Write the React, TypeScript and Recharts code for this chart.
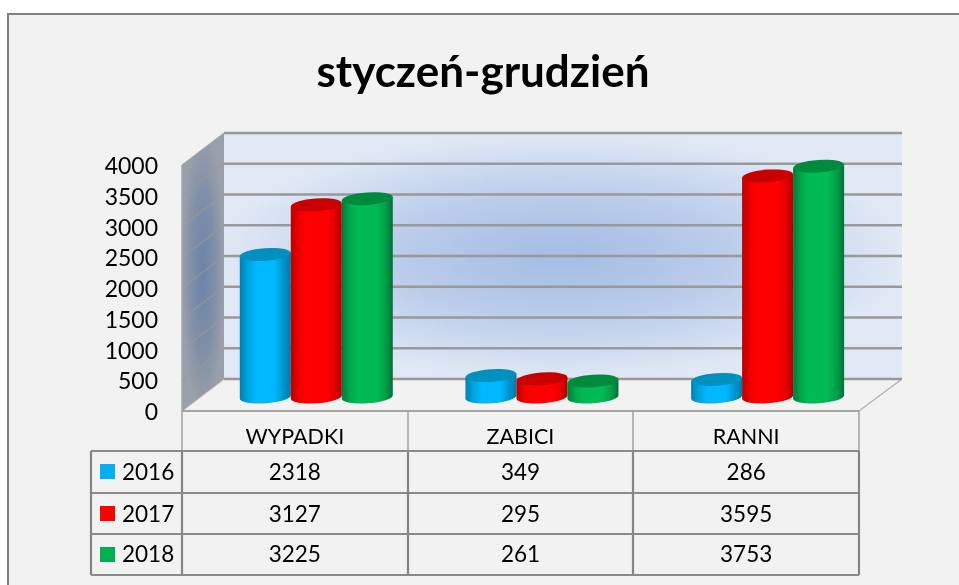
import React from "react";
import { BarChart, Bar, XAxis, YAxis, CartesianGrid } from "recharts";

const CATEGORIES = ["WYPADKI", "ZABICI", "RANNI"];
const VALUES_2016 = [2318, 349, 286];
const VALUES_2017 = [3127, 295, 3595];
const VALUES_2018 = [3225, 261, 3753];
const YEARS = ["2016", "2017", "2018"];
const Y_TICKS = [0, 500, 1000, 1500, 2000, 2500, 3000, 3500, 4000];
const TITLE = "styczeń-grudzień";
const FONT = "Lato, 'Open Sans', sans-serif";

const COLORS = ["#00b0f0", "#ff0000", "#00b050"];
const GRADIENTS = [
  ["#0080b0", "#00a4e0", "#00b8ff", "#00b8ff", "#0096cc", "#0078a8"],
  ["#b80000", "#ee0000", "#ff0000", "#ff0000", "#e80000", "#b00000"],
  ["#007a38", "#00a84c", "#00ba55", "#00ba55", "#00a048", "#00703a"],
];
const TOPS = ["#0090bf", "#c80000", "#008a3e"];
const ALL_VALUES = [VALUES_2016, VALUES_2017, VALUES_2018];
const rows = CATEGORIES.map((name, i) => ({
  name,
  y2016: VALUES_2016[i],
  y2017: VALUES_2017[i],
  y2018: VALUES_2018[i],
}));

const WIDTH = 959;
const HEIGHT = 585;
const DX = 21; // half the depth of the 3D box
const ROW_BASE = [480, 522, 562];
const KEY_TOP = [464, 506, 547];
const TABLE_X = [182, 408, 633, 859];
const TABLE_Y = [451, 493, 534, 575];

const Cylinder = (props: any) => {
  const { x, y, width, height, seriesIndex } = props;
  const rx = width / 2;
  const ry = 6.3;
  const tilt = 1.8;
  const cx = x + rx;
  const bottom = y + height;
  const d = `M${x},${y + tilt} L${x},${bottom + tilt} A${rx},${ry} -4 0 0 ${x + width},${bottom - tilt} L${x + width},${y - tilt} Z`;
  return (
    <g>
      <path d={d} fill={`url(#cyl${seriesIndex})`} />
      <ellipse cx={cx} cy={y} rx={rx} ry={ry} fill={TOPS[seriesIndex]} transform={`rotate(-4 ${cx} ${y})`} />
    </g>
  );
};

const YTick = (props: any) => (
  <text x={158} y={props.y + 23} textAnchor="end" fontFamily={FONT} fontSize={23} fill="#000">
    {props.payload.value}
  </text>
);

const XTick = (props: any) => {
  const i = CATEGORIES.indexOf(props.payload.value);
  const cx = props.x - DX;
  return (
    <g fontFamily={FONT} fontSize={22.5} fill="#000" textAnchor="middle">
      <text x={cx} y={444} fontSize={21.5}>{props.payload.value}</text>
      {ALL_VALUES.map((vals, r) => (
        <text key={r} x={cx} y={ROW_BASE[r]}>{vals[i]}</text>
      ))}
    </g>
  );
};

const GridLine = (props: any) => {
  const { y1 } = props;
  return (
    <g>
      <line x1={224} x2={902} y1={y1 - 18} y2={y1 - 18} stroke="#999999" strokeWidth={2.4} />
      <line x1={224} x2={182} y1={y1 - 18} y2={y1 + 14} stroke="#a09a90" strokeOpacity={0.65} strokeWidth={1.2} />
    </g>
  );
};

const Underlay = () => (
  <svg width={WIDTH} height={HEIGHT} style={{ position: "absolute", left: 0, top: 0 }}>
    <defs>
      <radialGradient id="backWall" cx="0.497" cy="0.5" r="0.5">
        <stop offset="0" stopColor="#a5bde4" />
        <stop offset="0.25" stopColor="#aec4e7" />
        <stop offset="0.5" stopColor="#bccdeb" />
        <stop offset="0.75" stopColor="#cddaf0" />
        <stop offset="1" stopColor="#e0e8f5" />
      </radialGradient>
      <radialGradient id="sideWall" cx="0.5" cy="0.5" r="0.5">
        <stop offset="0" stopColor="#6b82a8" />
        <stop offset="0.6" stopColor="#8190a8" />
        <stop offset="1" stopColor="#999fab" />
      </radialGradient>
      {GRADIENTS.map((stops, s) => (
        <linearGradient key={s} id={`cyl${s}`} x1="0" x2="1" y1="0" y2="0">
          {stops.map((c, i) => (
            <stop key={i} offset={[0, 0.16, 0.32, 0.68, 0.85, 1][i]} stopColor={c} />
          ))}
        </linearGradient>
      ))}
    </defs>
    <rect x={0} y={0} width={WIDTH} height={HEIGHT} fill="#fff" />
    <rect x={7} y={14} width={WIDTH} height={HEIGHT} fill="#f2f2f2" />
    <path d={`M8,${HEIGHT + 4} L8,14 L${WIDTH + 4},14`} fill="none" stroke="#808080" strokeWidth={2} />
    <rect x={224} y={133} width={678} height={246} fill="url(#backWall)" />
    <polygon points="182,165 224,133 224,379 182,411" fill="url(#sideWall)" />
    <polygon points="182,411 224,379 902,379 859,411" fill="#f2f2f2" />
    <line x1={859} y1={411} x2={902} y2={379} stroke="#b4b4b4" strokeWidth={1.5} />
    <line x1={182} y1={165} x2={182} y2={411} stroke="#a6a6a6" strokeWidth={1.5} />
    <line x1={182} y1={411} x2={859} y2={411} stroke="#a4a4a4" strokeWidth={2.2} />
    {TABLE_X.map((x) => (
      <g key={x}>
        <line x1={x} x2={x} y1={411} y2={451} stroke="#a0a0a0" strokeWidth={1.5} />
        <line x1={x} x2={x} y1={451} y2={575} stroke="#858585" strokeWidth={2.2} />
      </g>
    ))}
    <line x1={91} x2={91} y1={451} y2={575} stroke="#858585" strokeWidth={2.2} />
    {TABLE_Y.map((y) => (
      <line key={y} x1={91} x2={859} y1={y} y2={y} stroke="#8a8a8a" strokeWidth={2.2} />
    ))}
    {YEARS.map((yr, i) => (
      <g key={yr}>
        <rect x={100} y={KEY_TOP[i]} width={15} height={15} fill={COLORS[i]} />
        <text x={122} y={ROW_BASE[i]} fontFamily={FONT} fontSize={22.5} fill="#000">{yr}</text>
      </g>
    ))}
    <text x={483} y={87} textAnchor="middle" fontFamily={FONT} fontWeight={700} fontSize={44} fill="#000">
      {TITLE}
    </text>
  </svg>
);

export default function App() {
  return (
    <div style={{ position: "absolute", left: 0, top: 0, width: WIDTH, height: HEIGHT, overflow: "hidden", filter: "blur(0.45px)" }}>
      <Underlay />
      <div style={{ position: "absolute", left: 0, top: 0 }}>
        <BarChart
          width={WIDTH}
          height={HEIGHT}
          data={rows}
          margin={{ top: 151, right: 79, bottom: 158, left: 0 }}
          barCategoryGap="16.3%"
          barGap={0}
        >
          <CartesianGrid vertical={false} horizontal={GridLine as any} horizontalValues={Y_TICKS} />
          <XAxis dataKey="name" axisLine={false} tickLine={false} height={30} tick={XTick as any} interval={0} />
          <YAxis domain={[0, 4000]} ticks={Y_TICKS} width={203} axisLine={false} tickLine={false} tick={YTick as any} interval={0} />
          {["y2016", "y2017", "y2018"].map((key, s) => (
            <Bar
              key={key}
              dataKey={key}
              fill={COLORS[s]}
              isAnimationActive={false}
              shape={(p: any) => <Cylinder {...p} seriesIndex={s} />}
            />
          ))}
        </BarChart>
      </div>
    </div>
  );
}
